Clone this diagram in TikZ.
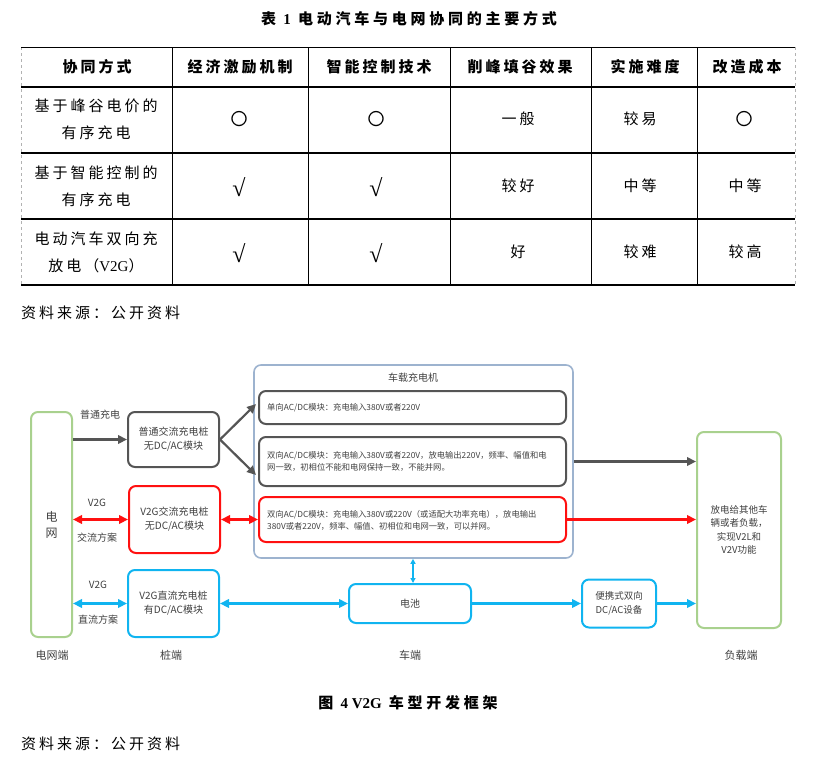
\documentclass[tikz,border=0pt]{standalone}
\usepackage{fontspec}
\setmainfont{Noto Sans CJK SC}
\newfontfamily\tbf{Noto Sans CJK SC}[LetterSpace=20]
\newfontfamily\ttbf{Noto Sans CJK SC}[LetterSpace=25]
\newfontfamily\serif{Liberation Serif}
\usetikzlibrary{arrows.meta}
\definecolor{dkgray}{HTML}{555555}
\definecolor{txtgray}{HTML}{404040}
\definecolor{vred}{HTML}{FF1010}
\definecolor{vcyan}{HTML}{10B4F0}
\definecolor{vgreen}{HTML}{A9D18E}
\definecolor{vblue}{HTML}{9DB3CF}
\begin{document}
\begin{tikzpicture}[x=1pt,y=-1pt,
  tcell/.style={font=\tbf\fontsize{15}{27}\selectfont, align=center, inner sep=0pt},
  sym/.style={font=\serif\fontsize{24}{26}\selectfont, inner sep=0pt},
  ring/.style={font=\fontsize{17}{20}\selectfont, inner sep=0pt},
  hcell/.style={font=\tbf\bfseries\fontsize{15}{18}\selectfont, inner sep=0pt},
  ttl/.style={font=\ttbf\bfseries\fontsize{15}{17}\selectfont, inner sep=0pt},
  src/.style={font=\tbf\fontsize{15}{18}\selectfont, inner sep=0pt, anchor=west},
  box/.style={draw, rounded corners=7pt, line width=2pt, text=txtgray, align=center,
    font=\fontsize{10}{14}\selectfont, inner sep=0pt},
  grayb/.style={box, draw=dkgray},
  redb/.style={box, draw=vred},
  cyanb/.style={box, draw=vcyan},
  greenb/.style={box, draw=vgreen},
  modtxt/.style={font=\fontsize{8.3}{12}\selectfont, text=txtgray, align=left, inner sep=0pt, anchor=west},
  lbl/.style={font=\fontsize{10}{12}\selectfont, text=txtgray, inner sep=0pt},
  endlbl/.style={font=\fontsize{11}{13}\selectfont, text=txtgray, inner sep=0pt},
  grayarr/.style={draw=dkgray, line width=2.2pt, -{Triangle[length=9pt,width=8.5pt]}},
  redarr/.style={draw=vred, line width=2.2pt, -{Triangle[length=9pt,width=8.5pt]}},
  redarr2/.style={draw=vred, line width=2.2pt, {Triangle[length=9pt,width=8.5pt]}-{Triangle[length=9pt,width=8.5pt]}},
  cyanarr/.style={draw=vcyan, line width=2.2pt, -{Triangle[length=9pt,width=8.5pt]}},
  cyanarr2/.style={draw=vcyan, line width=2.2pt, {Triangle[length=9pt,width=8.5pt]}-{Triangle[length=9pt,width=8.5pt]}},
  cyansmall/.style={draw=vcyan, line width=1.6pt, {Triangle[length=5pt,width=5pt]}-{Triangle[length=5pt,width=5pt]}},
]
\useasboundingbox (0,0) rectangle (816,761);

% ---------- table ----------
\node[ttl] (t1) at (409,19) {表 {\serif 1} 电动汽车与电网协同的主要方式};

\draw[gray!60, dashed, line width=0.6pt] (21,47) -- (21,285);
\draw[gray!60, dashed, line width=0.6pt] (795,47) -- (795,285);
\draw[line width=0.8pt] (21,47) -- (795,47);
\draw[line width=1.4pt] (21,87) -- (795,87);
\draw[line width=1.2pt] (21,153) -- (795,153);
\draw[line width=1.2pt] (21,219) -- (795,219);
\draw[line width=1.4pt] (21,285) -- (795,285);
\foreach \xx in {172,308,450,591,697} \draw[line width=1pt] (\xx,47) -- (\xx,285);

\node[hcell] (h1) at (97,67) {协同方式};
\node[hcell] (h2) at (240,67) {经济激励机制};
\node[hcell] (h3) at (379,67) {智能控制技术};
\node[hcell] (h4) at (520,67) {削峰填谷效果};
\node[hcell] (h5) at (645,67) {实施难度};
\node[hcell] (h6) at (747,67) {改造成本};

\node[tcell] (r1c1) at (96,119) {基于峰谷电价的\\有序充电};
\node[ring] (r1c2) at (239,119) {〇};
\node[ring] (r1c3) at (376,119) {〇};
\node[tcell] (r1c4) at (518,119) {一般};
\node[tcell] (r1c5) at (640,119) {较易};
\node[ring] (r1c6) at (744,119) {〇};

\node[tcell] (r2c1) at (96,186) {基于智能控制的\\有序充电};
\node[sym] (r2c2) at (239,187) {√};
\node[sym] (r2c3) at (376,187) {√};
\node[tcell] (r2c4) at (518,186) {较好};
\node[tcell] (r2c5) at (640,186) {中等};
\node[tcell] (r2c6) at (745,186) {中等};

\node[tcell] (r3c1) at (96,252) {电动汽车双向充\\放电（{\serif V2G}）};
\node[sym] (r3c2) at (239,253) {√};
\node[sym] (r3c3) at (376,253) {√};
\node[tcell] (r3c4) at (518,252) {好};
\node[tcell] (r3c5) at (640,252) {较难};
\node[tcell] (r3c6) at (745,252) {较高};

\node[src] (s1) at (21,313) {资料来源：公开资料};

% ---------- diagram ----------
\node[draw=vblue, line width=1.6pt, rounded corners=7pt, minimum width=319pt, minimum height=193pt, inner sep=0pt] (outer) at (413.5,461.5) {};
\node[lbl] (obc) at (413,378) {车载充电机};
\node[grayb, minimum width=307pt, minimum height=33pt] (m1) at (412.5,407.5) {};
\node[grayb, minimum width=307pt, minimum height=49pt] (m2) at (412.5,461.5) {};
\node[redb, minimum width=307pt, minimum height=45pt] (m3) at (412.5,519.5) {};
\node[modtxt] (m1t) at (267,407.5) {单向AC/DC模块：充电输入380V或者220V};
\node[modtxt] (m2t) at (267,461) {双向AC/DC模块：充电输入380V或者220V，放电输出220V，频率、幅值和电\\网一致，初相位不能和电网保持一致，不能并网。};
\node[modtxt] (m3t) at (267,520) {双向AC/DC模块：充电输入380V或220V（或适配大功率充电），放电输出\\380V或者220V，频率、幅值、初相位和电网一致，可以并网。};

\node[greenb, minimum width=41pt, minimum height=225pt, font=\fontsize{12}{16}\selectfont] (grid) at (51.5,524.5) {电\\网};
\node[grayb, minimum width=91pt, minimum height=55pt] (pt) at (173.5,439.5) {普通交流充电桩\\无DC/AC模块};
\node[redb, minimum width=91pt, minimum height=67pt] (acp) at (174.5,519.5) {V2G交流充电桩\\无DC/AC模块};
\node[cyanb, minimum width=91pt, minimum height=67pt] (dcp) at (173.5,603.5) {V2G直流充电桩\\有DC/AC模块};
\node[cyanb, minimum width=122pt, minimum height=39pt] (bat) at (410,603.5) {电池};
\node[cyanb, minimum width=74pt, minimum height=48pt, font=\fontsize{9.5}{14}\selectfont] (port) at (619,603.5) {便携式双向\\DC/AC设备};
\node[greenb, minimum width=84pt, minimum height=196pt, font=\fontsize{9.5}{13.5}\selectfont] (load) at (739,530) {放电给其他车\\辆或者负载，\\实现V2L和\\V2V功能};

\node[lbl] (l1) at (100,415) {普通充电};
\node[lbl] (l2) at (97,503) {V2G};
\node[lbl] (l3) at (97,538) {交流方案};
\node[lbl] (l4) at (98,585) {V2G};
\node[lbl] (l5) at (98,620) {直流方案};

\node[endlbl] (e1) at (52,655) {电网端};
\node[endlbl] (e2) at (171,655) {桩端};
\node[endlbl] (e3) at (410,655) {车端};
\node[endlbl] (e4) at (741,655) {负载端};

% connectors
\coordinate (c1) at (256,404);
\coordinate (c2) at (256,475);
\draw[grayarr] (grid.east |- pt.west) -- (pt.west);
\draw[grayarr] (pt.east) -- (c1);
\draw[grayarr] (pt.east) -- (c2);
\draw[grayarr] (outer.east |- m2.east) -- (load.west |- m2.east);

\draw[redarr2] (grid.east |- acp.west) -- (acp.west);
\draw[redarr2] (acp.east) -- (m3.west);
\draw[redarr] (m3.east) -- (load.west |- m3.east);

\draw[cyanarr2] (grid.east |- dcp.west) -- (dcp.west);
\draw[cyanarr2] (dcp.east) -- (bat.west);
\draw[cyansmall] (bat.north -| 413,0) -- (outer.south -| 413,0);
\draw[cyanarr] (bat.east) -- (port.west);
\draw[cyanarr] (port.east) -- (load.west |- port.east);

% caption
\node[ttl] (cap) at (408,703) {图 {\serif 4 V2G} 车型开发框架};
\node[src] (s2) at (21,744) {资料来源：公开资料};
\end{tikzpicture}
\end{document}
